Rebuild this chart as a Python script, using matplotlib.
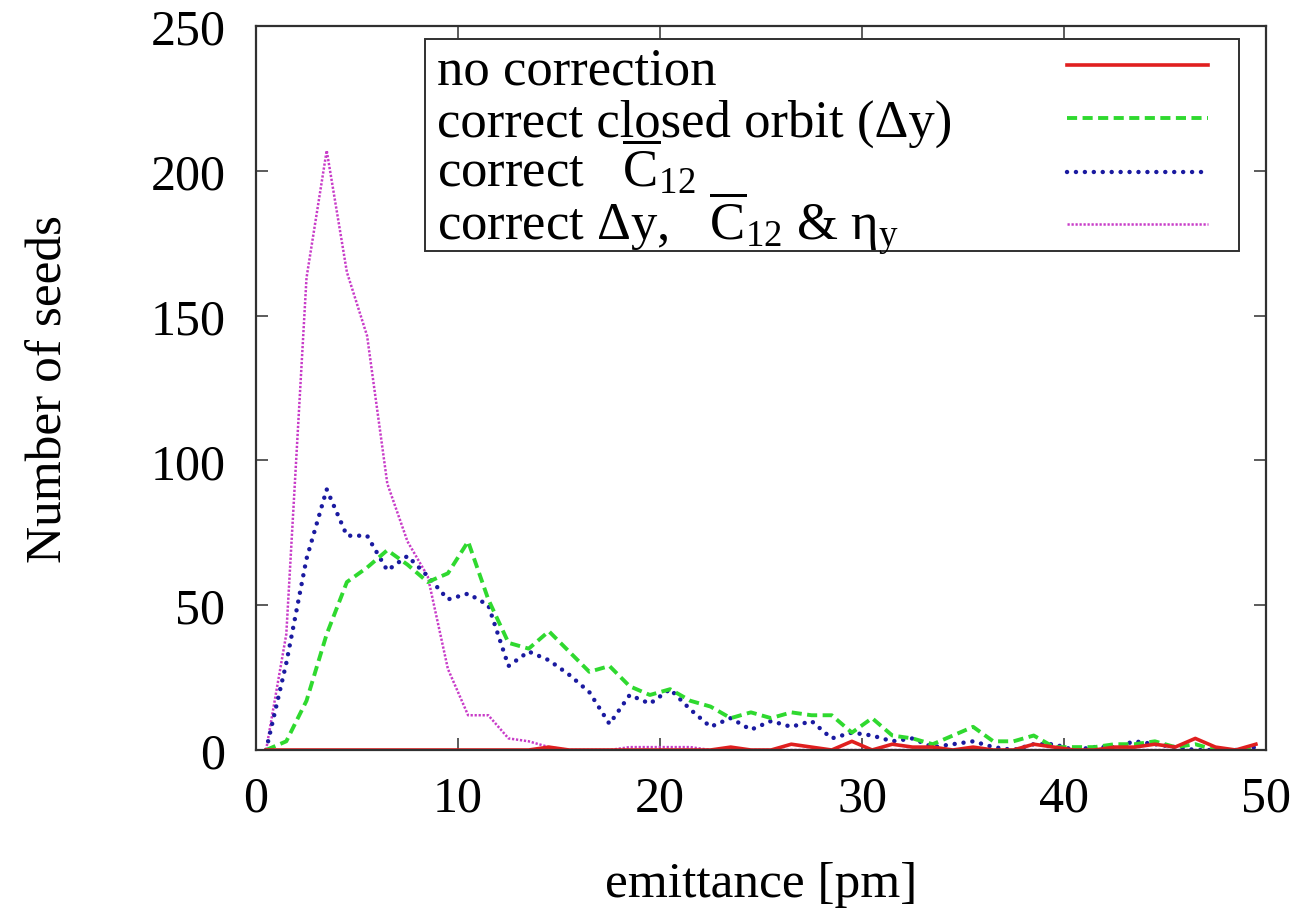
import numpy as np
import matplotlib
matplotlib.use("Agg")
import matplotlib.pyplot as plt
from matplotlib.patches import Rectangle

# Histogram bin centres (pm)
emittance = np.arange(50) + 0.5

no_correction = [0, 0, 0, 0, 0, 0, 0, 0, 0, 0,
                 0, 0, 0, 0, 1, 0, 0, 0, 0, 0,
                 0, 0, 0, 1, 0, 0, 2, 1, 0, 3,
                 0, 2, 1, 1, 0, 1, 0, 0, 2, 1,
                 0, 0, 1, 1, 2, 1, 4, 1, 0, 2]

closed_orbit = [0, 3, 17, 40, 58, 63, 69, 64, 58, 61,
                72, 52, 37, 35, 41, 34, 27, 29, 22, 19,
                21, 17, 15, 11, 13, 11, 13, 12, 12, 6,
                11, 5, 4, 2, 5, 8, 3, 3, 5, 1,
                1, 1, 2, 2, 3, 1, 2, 0, 0, 1]

coupling_c12 = [0, 30, 66, 90, 74, 74, 62, 67, 60, 52,
                54, 50, 29, 34, 31, 26, 20, 9, 19, 16,
                21, 14, 8, 11, 7, 10, 8, 10, 4, 6,
                5, 3, 4, 1, 2, 3, 1, 0, 2, 2,
                0, 1, 1, 3, 2, 1, 0, 0, 0, 1]

all_corrections = [0, 40, 163, 207, 165, 143, 92, 72, 60, 28,
                   12, 12, 4, 3, 1, 0, 0, 0, 1, 1,
                   1, 1, 0, 0, 0, 0, 0, 0, 0, 0,
                   0, 0, 0, 0, 0, 0, 0, 0, 0, 0,
                   0, 0, 0, 0, 0, 0, 0, 0, 0, 0]

labels = [
    "no correction",
    "correct closed orbit (Δy)",
    r"correct   $\overline{\mathrm{C}}_{12}$",
    r"correct Δy,   $\overline{\mathrm{C}}_{12}$ & η$_{\mathrm{y}}$",
]
xticks = [0, 10, 20, 30, 40, 50]
yticks = [0, 50, 100, 150, 200, 250]

plt.rcParams["font.family"] = ["Liberation Serif", "DejaVu Serif"]
plt.rcParams["mathtext.fontset"] = "custom"
plt.rcParams["mathtext.rm"] = "Liberation Serif"
plt.rcParams["mathtext.it"] = "Liberation Serif:italic"

W, H = 1315, 912
fig = plt.figure(figsize=(W / 100, H / 100), dpi=100)
ax = fig.add_axes([256 / W, 1 - 751 / H, 1010 / W, 724 / H])

styles = [
    dict(color="#e01f1f", lw=2.6, linestyle="-"),
    dict(color="#2fd92f", lw=2.8, linestyle=(0, (2.6, 1.4))),
    dict(color="#1a1aa0", lw=3.2, linestyle=(0, (0.01, 2.0)),
         dash_capstyle="round"),
    dict(color="#c83cc8", lw=1.8, linestyle=(0, (0.9, 0.7))),
]
series = [no_correction, closed_orbit, coupling_c12, all_corrections]

# draw back-to-front so the uncorrected curve sits on top like the key order
for ys, st in zip(series[::-1], styles[::-1]):
    ax.plot(emittance, ys, clip_on=True, **st)

ax.set_xlim(0, 50)
ax.set_ylim(0, 250)
ax.set_xticks(xticks)
ax.set_yticks(yticks)
ax.tick_params(direction="in", length=8.6, width=1.2, top=True, right=True,
               labelsize=36, color="#404040")
ax.tick_params(axis="x", pad=18)
ax.tick_params(axis="y", pad=22)
for sp in ax.spines.values():
    sp.set_linewidth(1.6)
    sp.set_color("#303030")

ax.set_xlabel("emittance [pm]", fontsize=37)
ax.set_ylabel("Number of seeds", fontsize=37)
ax.xaxis.set_label_coords(0.5, -0.152)
ax.yaxis.set_label_coords(-0.182, 0.5)

# key box in the upper right
ax.add_patch(Rectangle((0.167, 0.689), 0.806, 0.293, transform=ax.transAxes,
                       facecolor="white", edgecolor="#303030", lw=1.4,
                       zorder=5))
row_base = [0.920, 0.848, 0.779, 0.706]
row_line = [0.946, 0.873, 0.798, 0.726]
for lab, yb, yl, st in zip(labels, row_base, row_line, styles):
    ax.text(0.179, yb, lab, transform=ax.transAxes, fontsize=38,
            va="baseline", ha="left", zorder=6)
    ax.plot([0.803, 0.943], [yl, yl], transform=ax.transAxes, zorder=6,
            clip_on=False, **st)

fig.savefig("out.png", dpi=100)
